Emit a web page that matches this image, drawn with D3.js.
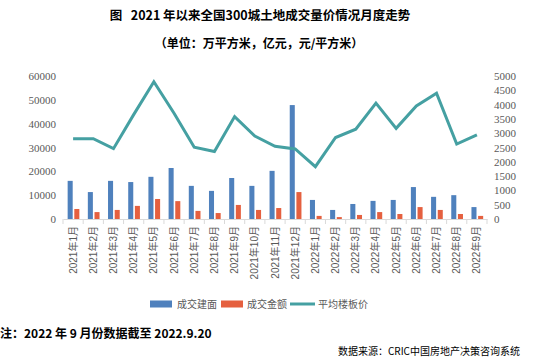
<!DOCTYPE html>
<html><head><meta charset="utf-8">
<script src="https://cdn.jsdelivr.net/npm/d3@7"></script>
<style>
html,body{margin:0;padding:0;background:#fff;}
svg{display:block;}
</style></head>
<body>
<svg id="c" width="550" height="361"></svg>
<script>
const categories = ["2021年1月","2021年2月","2021年3月","2021年4月","2021年5月","2021年6月","2021年7月","2021年8月","2021年9月","2021年10月","2021年11月","2021年12月","2022年1月","2022年2月","2022年3月","2022年4月","2022年5月","2022年6月","2022年7月","2022年8月","2022年9月"];
const areaValues = [16000, 11300, 16000, 15500, 17700, 21400, 13900, 11800, 17200, 13900, 20200, 47800, 8000, 3800, 6300, 7600, 8000, 13400, 9300, 10000, 5000];
const amountValues = [4200, 2900, 3800, 5500, 8400, 7500, 3400, 2500, 5900, 3800, 4600, 11300, 1300, 800, 1700, 2900, 2100, 5000, 3800, 2100, 1300];
const priceValues = [2810, 2810, 2460, 3650, 4800, 3700, 2510, 2360, 3580, 2900, 2540, 2450, 1830, 2850, 3140, 4050, 3170, 3950, 4400, 2620, 2940];
const leftTicks = [0, 10000, 20000, 30000, 40000, 50000, 60000];
const rightTicks = [0, 500, 1000, 1500, 2000, 2500, 3000, 3500, 4000, 4500, 5000];
const seriesNames = ["成交建面", "成交金额", "平均楼板价"];
const titleText = "图\u00a0\u00a0\u00a02021 年以来全国300城土地成交量价情况月度走势";
const subtitleText = "（单位：万平方米，亿元，元/平方米）";
const noteText = "注：2022 年 9 月份数据截至 2022.9.20";
const sourceText = "数据来源：CRIC中国房地产决策咨询系统";

const colors = {area: "#4F81BD", amount: "#E5603F", price: "#45A0A2", axis: "#D9D9D9", text: "#595959"};
const cjk = "'Noto Sans CJK SC', sans-serif";

const svg = d3.select("#c");
const pLeft = 63, pRight = 487, pTop = 76, pBottom = 219;

const x = d3.scaleBand().domain(categories).range([pLeft, pRight]).paddingInner(0).paddingOuter(0);
const yL = d3.scaleLinear().domain([0, 60000]).range([pBottom, pTop]);
const yR = d3.scaleLinear().domain([0, 5000]).range([pBottom, pTop]);
const bw = x.bandwidth();

// titles
svg.append("text").attr("x", 260).attr("y", 20).attr("text-anchor", "middle")
  .style("font-family", cjk).style("font-size", "12.5px").style("font-weight", "bold").text(titleText);
svg.append("text").attr("x", 259).attr("y", 48).attr("text-anchor", "middle")
  .style("font-family", cjk).style("font-size", "12px").style("font-weight", "bold").text(subtitleText);

// bars
svg.append("g").selectAll("rect").data(areaValues).join("rect")
  .attr("x", (d, i) => x(categories[i]) + bw * 0.23)
  .attr("width", bw * 0.25)
  .attr("y", d => yL(d)).attr("height", d => yL(0) - yL(d))
  .attr("fill", colors.area);
svg.append("g").selectAll("rect").data(amountValues).join("rect")
  .attr("x", (d, i) => x(categories[i]) + bw * 0.56)
  .attr("width", bw * 0.25)
  .attr("y", d => yL(d)).attr("height", d => yL(0) - yL(d))
  .attr("fill", colors.amount);

// line
const line = d3.line().x((d, i) => x(categories[i]) + bw / 2).y(d => yR(d));
svg.append("path").datum(priceValues).attr("d", line)
  .attr("fill", "none").attr("stroke", colors.price).attr("stroke-width", 3).attr("stroke-linejoin", "miter");

// x axis
const gx = svg.append("g").attr("transform", `translate(0,${pBottom})`)
  .call(d3.axisBottom(x).tickSize(0).tickPadding(0));
gx.select(".domain").attr("stroke", colors.axis);
gx.selectAll(".tick text")
  .attr("transform", "rotate(-90)")
  .attr("x", -7).attr("y", 0).attr("dy", "0.35em")
  .attr("text-anchor", "end")
  .style("font-family", "'Liberation Sans', " + cjk).style("font-size", "10px").attr("fill", colors.text);
const bounds = categories.map(c => x(c)).concat([pRight]);
svg.append("g").selectAll("line").data(bounds).join("line")
  .attr("x1", d => d).attr("x2", d => d).attr("y1", pBottom).attr("y2", pBottom + 5)
  .attr("stroke", colors.axis);

// left axis
const gl = svg.append("g").attr("transform", `translate(${pLeft},0)`)
  .call(d3.axisLeft(yL).tickValues(leftTicks).tickSize(0).tickPadding(7).tickFormat(d3.format("d")));
gl.select(".domain").remove();
gl.selectAll("text").style("font-family", "'Liberation Serif', serif").style("font-size", "11px").attr("fill", colors.text);

// right axis
const gr = svg.append("g").attr("transform", `translate(${pRight},0)`)
  .call(d3.axisRight(yR).tickValues(rightTicks).tickSize(0).tickPadding(7).tickFormat(d3.format("d")));
gr.select(".domain").remove();
gr.selectAll("text").style("font-family", "'Liberation Serif', serif").style("font-size", "11px").attr("fill", colors.text);

// legend
const lg = svg.append("g").style("font-family", cjk).style("font-size", "10px");
const ly = 304;
lg.append("rect").attr("x", 150).attr("y", ly - 3.5).attr("width", 22).attr("height", 7).attr("fill", colors.area);
lg.append("text").attr("x", 177).attr("y", ly).attr("dy", "0.35em").attr("fill", colors.text).text(seriesNames[0]);
lg.append("rect").attr("x", 221).attr("y", ly - 3.5).attr("width", 22).attr("height", 7).attr("fill", colors.amount);
lg.append("text").attr("x", 247).attr("y", ly).attr("dy", "0.35em").attr("fill", colors.text).text(seriesNames[1]);
lg.append("line").attr("x1", 290).attr("x2", 315).attr("y1", ly).attr("y2", ly).attr("stroke", colors.price).attr("stroke-width", 3);
lg.append("text").attr("x", 318).attr("y", ly).attr("dy", "0.35em").attr("fill", colors.text).text(seriesNames[2]);

// note and source
svg.append("text").attr("x", 0).attr("y", 338).style("font-family", cjk).style("font-size", "12px").style("font-weight", "bold").text(noteText);
svg.append("text").attr("x", 520).attr("y", 355).attr("text-anchor", "end").style("font-family", cjk).style("font-size", "10px").text(sourceText);
</script>
</body></html>
